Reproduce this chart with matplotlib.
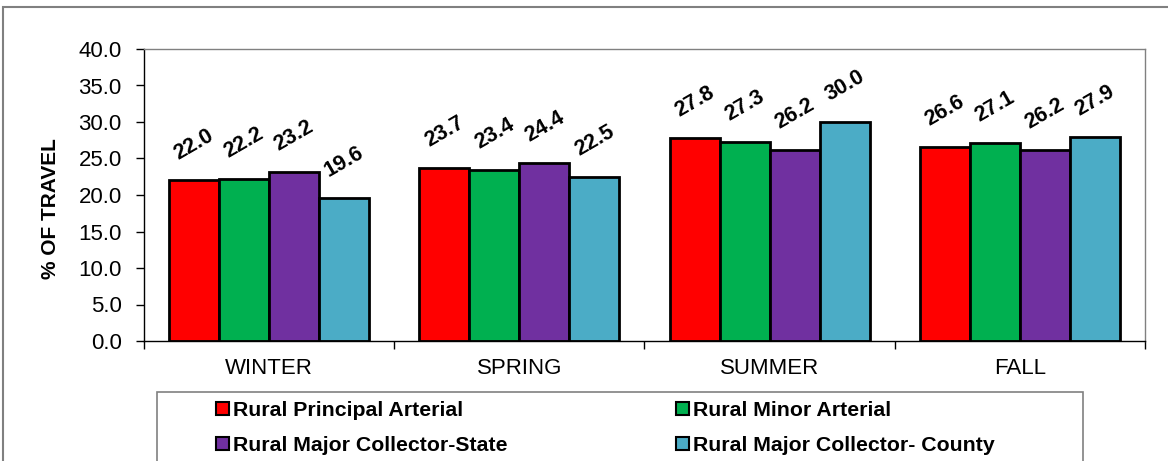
import matplotlib
matplotlib.use("Agg")
import matplotlib.pyplot as plt
import numpy as np
from matplotlib.patches import Patch, Rectangle

plt.rcParams['font.family'] = ['Liberation Sans', 'DejaVu Sans']

seasons = ['WINTER', 'SPRING', 'SUMMER', 'FALL']
series_names = ['Rural Principal Arterial', 'Rural Minor Arterial',
                'Rural Major Collector-State', 'Rural Major Collector- County']
principal = [22.0, 23.7, 27.8, 26.6]
minor = [22.2, 23.4, 27.3, 27.1]
collector_state = [23.2, 24.4, 26.2, 26.2]
collector_county = [19.6, 22.5, 30.0, 27.9]
colors = ['#FF0000', '#00B050', '#7030A0', '#4BACC6']

series = [principal, minor, collector_state, collector_county]

fig = plt.figure(figsize=(11.68, 4.61), dpi=100)
ax = fig.add_axes([144 / 1168, 1 - 341 / 461, 1001 / 1168, 292 / 461])

x = np.arange(len(seasons))
w = 0.2
offsets = [-1.5 * w, -0.5 * w, 0.5 * w, 1.5 * w]

for vals, off, c in zip(series, offsets, colors):
    bars = ax.bar(x + off, vals, w, color=c, edgecolor='black', linewidth=2)
    for rect, v in zip(bars, vals):
        ax.annotate('{:.1f}'.format(v),
                    xy=(rect.get_x() + rect.get_width() / 2, v),
                    xytext=(0, 26), textcoords='offset points',
                    ha='center', va='center', rotation=30,
                    fontsize=15.5, fontweight='bold')

ax.set_xlim(-0.5, 3.5)
ax.set_ylim(0, 40)
ax.set_yticks(np.arange(0, 40.1, 5))
ax.set_yticklabels(['{:.1f}'.format(t) for t in np.arange(0, 40.1, 5)])
ax.set_xticks(x)
ax.set_xticklabels(seasons)
ax.set_xticks(np.arange(-0.5, 3.6, 1), minor=True)
ax.tick_params(axis='x', which='major', length=0, pad=12, labelsize=16)
ax.tick_params(axis='x', which='minor', length=6, width=1, direction='out')
ax.tick_params(axis='y', length=6, width=1, pad=10, labelsize=16)

for s in ['left', 'bottom']:
    ax.spines[s].set_color('black')
    ax.spines[s].set_linewidth(1)
for s in ['top', 'right']:
    ax.spines[s].set_color('#808080')
    ax.spines[s].set_linewidth(1)

ax.set_ylabel('% OF TRAVEL', fontsize=15, fontweight='bold')
ax.yaxis.set_label_coords(-0.084, 0.455)

# outer chart frame
fig.patches.append(Rectangle((2.5 / 1168, -0.1), 1.2, 1.1 - 7 / 461,
                             transform=fig.transFigure, fill=False,
                             edgecolor='#808080', linewidth=1.5))
# legend box
fig.patches.append(Rectangle((157 / 1168, -0.1), (1083 - 157) / 1168, 0.1 + (1 - 392 / 461),
                             transform=fig.transFigure, fill=False,
                             edgecolor='#808080', linewidth=1.2))

handles = [Patch(facecolor=c, edgecolor='black', linewidth=1.5) for c in colors]
leg_kw = dict(frameon=False, prop={'weight': 'bold', 'size': 15.3},
              handlelength=0.6, handleheight=0.6, handletextpad=0.2,
              labelspacing=0.75, borderpad=0, borderaxespad=0, loc='upper left')
leg1 = fig.legend([handles[0], handles[2]], [series_names[0], series_names[2]],
                  bbox_to_anchor=(216 / 1168, 1 - 401 / 461), **leg_kw)
leg2 = fig.legend([handles[1], handles[3]], [series_names[1], series_names[3]],
                  bbox_to_anchor=(676 / 1168, 1 - 401 / 461), **leg_kw)

fig.savefig('out.png', dpi=100)
